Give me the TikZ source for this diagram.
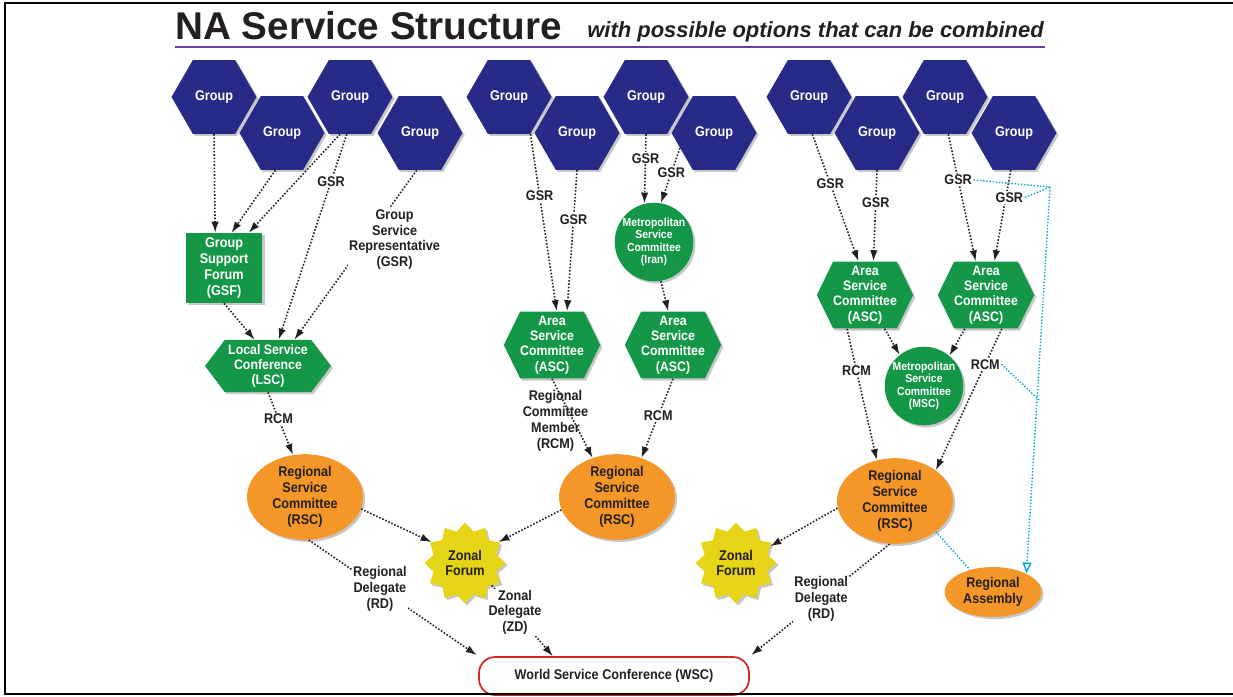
\documentclass[tikz,border=0pt]{standalone}
\usepackage{fontspec}
\setmainfont{Liberation Sans}
\newfontfamily\narrowsf{Liberation Sans}[FakeStretch=0.9]
\usetikzlibrary{shapes.geometric,shapes.symbols,arrows.meta,shadows}

\definecolor{groupblue}{RGB}{40,42,135}
\definecolor{nagreen}{RGB}{20,152,72}
\definecolor{rscorange}{RGB}{245,150,40}
\definecolor{zonalyellow}{RGB}{230,212,22}
\definecolor{rulepurple}{RGB}{105,60,160}
\definecolor{auxcyan}{RGB}{0,170,215}
\definecolor{wscred}{RGB}{215,40,40}
\definecolor{inkblack}{RGB}{35,31,32}

\tikzset{
  nodefont/.style={font=\narrowsf\bfseries\fontsize{8}{9}\selectfont},
  soft/.style={drop shadow={shadow xshift=1.2pt, shadow yshift=-1.2pt, opacity=0.22, fill=black}},
  grouphex/.style={regular polygon, regular polygon sides=6, minimum size=1.7cm, inner sep=0pt, fill=groupblue, text=white, soft, nodefont},
  gsfbox/.style={rectangle, minimum width=1.54cm, minimum height=1.4cm, inner sep=0pt, fill=nagreen, text=white, align=center, soft, nodefont},
  cmtehex/.style={signal, signal to=west and east, signal pointer angle=128, inner xsep=0pt, inner ysep=2.5pt, fill=nagreen, text=white, align=center, soft, font=\narrowsf\bfseries\fontsize{7.8}{8.7}\selectfont},
  lschex/.style={cmtehex, signal pointer angle=106, inner xsep=2pt},
  metro/.style={circle, minimum size=1.46cm, inner sep=0pt, fill=nagreen, text=white, align=center, soft, font=\narrowsf\bfseries\fontsize{6.6}{7}\selectfont},
  rscell/.style={ellipse, minimum width=2.32cm, minimum height=1.6cm, inner sep=0pt, fill=rscorange, text=inkblack, align=center, soft, nodefont},
  raell/.style={rscell, minimum width=1.94cm, minimum height=1cm},
  zonal/.style={star, star points=12, star point ratio=1.25, minimum size=1.62cm, inner sep=0pt, fill=zonalyellow, text=inkblack, align=center, soft, nodefont},
  wscbox/.style={rectangle, rounded corners=0.32cm, minimum width=5.4cm, minimum height=0.76cm, draw=wscred, line width=1pt, fill=white, text=inkblack, nodefont},
  lbl/.style={fill=white, inner sep=0.6pt, align=center, text=inkblack, nodefont},
  bare/.style={lbl, fill=none},
  flow/.style={densely dotted, line width=0.9pt, inkblack, -{Latex[length=2.2mm,width=1.5mm]}},
  aux/.style={densely dotted, line width=0.8pt, auxcyan},
  auxtip/.style={-{Triangle[open,length=2.2mm,width=1.8mm]}}
}

\begin{document}
\begin{tikzpicture}[x=0.02cm, y=-0.02cm]
\useasboundingbox (0,0) rectangle (1233,696);

\node (title) [anchor=base west, inner sep=0pt, text=inkblack, font=\bfseries\fontsize{22}{24}\selectfont] at (175,40) {NA Service Structure};
\node (subtitle) [anchor=base west, inner sep=0pt, text=inkblack, font=\bfseries\itshape\fontsize{12.5}{14}\selectfont] at (587,38) {with possible options that can be combined};
\draw [rulepurple, line width=1.6pt] (175,47) -- (1045,47);

\node (g1) [grouphex] at (214,97) {Group};
\node (g2) [grouphex] at (282,133) {Group};
\node (g3) [grouphex] at (350,97) {Group};
\node (g4) [grouphex] at (420,133) {Group};
\node (g5) [grouphex] at (509,97) {Group};
\node (g6) [grouphex] at (577,133) {Group};
\node (g7) [grouphex] at (646,97) {Group};
\node (g8) [grouphex] at (714,133) {Group};
\node (g9) [grouphex] at (809,97) {Group};
\node (g10) [grouphex] at (877,133) {Group};
\node (g11) [grouphex] at (945,97) {Group};
\node (g12) [grouphex] at (1014,133) {Group};

\node (gsf) [gsfbox] at (224,268) {Group\\Support\\Forum\\(GSF)};
\node (lsc) [lschex] at (268,366) {Local Service\\Conference\\(LSC)};
\node (asc1) [cmtehex] at (552,345) {Area\\Service\\Committee\\(ASC)};
\node (asc2) [cmtehex] at (673,345) {Area\\Service\\Committee\\(ASC)};
\node (iran) [metro] at (654,242) {Metropolitan\\Service\\Committee\\(Iran)};
\node (asc3) [cmtehex] at (865,295) {Area\\Service\\Committee\\(ASC)};
\node (asc4) [cmtehex] at (986,295) {Area\\Service\\Committee\\(ASC)};
\node (msc) [metro] at (924,386) {Metropolitan\\Service\\Committee\\(MSC)};

\node (rsc1) [rscell] at (305,497) {Regional\\Service\\Committee\\(RSC)};
\node (rsc2) [rscell] at (617,497) {Regional\\Service\\Committee\\(RSC)};
\node (rsc3) [rscell] at (895,501) {Regional\\Service\\Committee\\(RSC)};
\node (ra) [raell] at (993,592) {Regional\\Assembly};
\node (zf1) [zonal] at (465,563) {Zonal\\Forum};
\node (zf2) [zonal] at (736,563) {Zonal\\Forum};
\node (wsc) [wscbox] at (614,676) {World Service Conference (WSC)};

\path (g1.south) edge [flow] (gsf.104);
\path (g2.-100) edge [flow] (gsf.78);
\path (g3.-105) edge [flow] (gsf.55);
\path (g3.-95) edge [flow] node [lbl, pos=.23] {GSR} (lsc.68);
\path (g4.-95) edge [flow] node [lbl, pos=.41, xshift=0.56cm] {Group\\Service\\Representative\\(GSR)} (lsc.45);
\path (gsf.south) edge [flow] (lsc.117);
\path (lsc.south) edge [flow] node [lbl, pos=.42] {RCM} (rsc1.106);
\path (rsc1.-12) edge [flow] (zf1.148);
\path (rsc1.-85) edge [flow, shorten >=1pt] node [lbl, pos=.42] {Regional\\Delegate\\(RD)} (wsc.north west);
\path (zf1.-40) edge [flow] node [lbl, pos=.38] {Zonal\\Delegate\\(ZD)} (wsc.162);

\path (g5.-60) edge [flow] node [lbl, pos=.35] {GSR} (asc1.82);
\path (g6.south) edge [flow] node [lbl, pos=.35] {GSR} (asc1.66);
\path (g7.south) edge [flow] node [lbl, pos=.35] {GSR} (iran.104);
\path (g8.204) edge [flow] node [lbl, pos=.45] {GSR} (iran.80);
\path (iran.-80) edge [flow] (asc2.98);
\path (asc1.south) edge [flow] node [bare, pos=.53, xshift=-0.36cm] {Regional\\Committee\\Member\\(RCM)} (rsc2.122);
\path (asc2.south) edge [flow] node [lbl, pos=.47] {RCM} (rsc2.58);
\path (rsc2.193) edge [flow] (zf1.32);

\path (g9.-85) edge [flow] node [lbl, pos=.39] {GSR} (asc3.101);
\path (g10.south) edge [flow] node [lbl, pos=.36] {GSR} (asc3.76);
\path (g11.-85) edge [flow] node (gsra) [lbl, pos=.36] {GSR} (asc4.107);
\path (g12.-95) edge [flow] node (gsrb) [lbl, pos=.3, xshift=2pt] {GSR} (asc4.76);
\path (asc3.-60) edge [flow] (msc.128);
\path (asc4.-122) edge [flow] (msc.50);
\path (asc3.-118) edge [flow] node [lbl, pos=.32] {RCM} (rsc3.114);
\path (asc4.-65) edge [flow] node (rcmb) [lbl, pos=.25] {RCM} (rsc3.37);
\path (rsc3.187) edge [flow] (zf2.26);
\path (rsc3.-97) edge [flow, shorten >=1pt] node [lbl, pos=.49] {Regional\\Delegate\\(RD)} (wsc.north east);

\coordinate (cj) at (1050,187);
\coordinate (ck) at (1039,400);
\path (gsra.east) edge [aux] (cj);
\path (gsrb.east) edge [aux] (cj);
\path (cj) edge [aux, auxtip] (ra.29);
\path (rcmb.east) edge [aux] (ck);
\path (rsc3.-37) edge [aux] (ra.136);

\draw [line width=1.1pt] (1233,3) -- (5,3) -- (5,694) -- (1233,694);
\end{tikzpicture}
\end{document}
